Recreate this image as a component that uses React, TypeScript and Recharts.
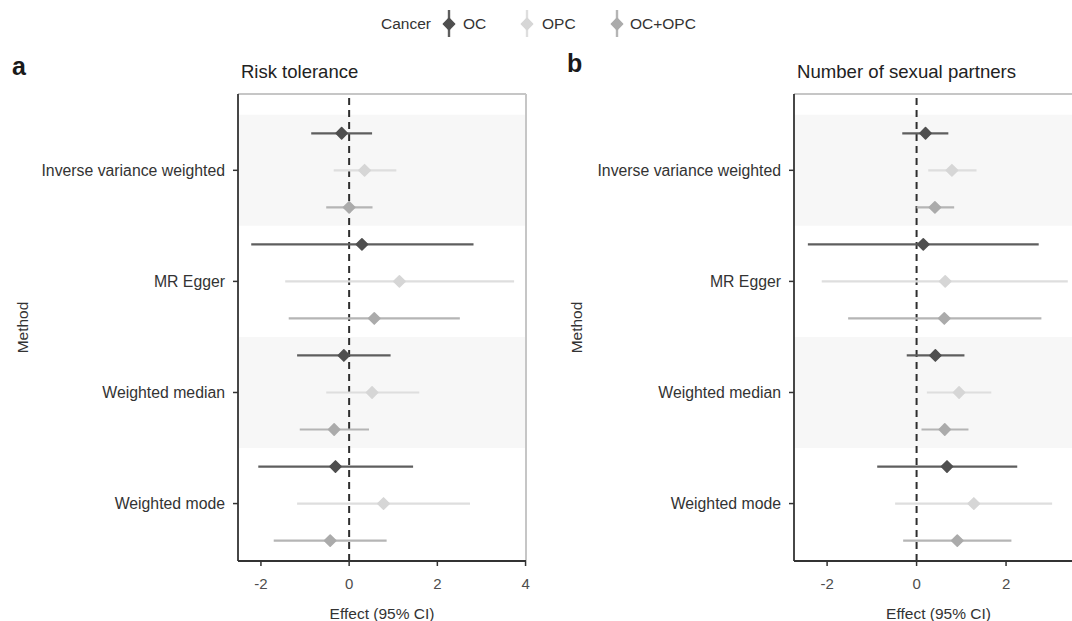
import React from 'react'
import {
  ScatterChart,
  Scatter,
  XAxis,
  YAxis,
  ErrorBar,
  ReferenceArea,
  ReferenceLine,
} from 'recharts'

const methods = ['Inverse variance weighted', 'MR Egger', 'Weighted median', 'Weighted mode']
const cancers = ['OC', 'OPC', 'OC+OPC']

// a: risk tolerance
const riskOC = [-0.17, 0.29, -0.12, -0.31]
const riskOCLow = [-0.86, -2.22, -1.18, -2.06]
const riskOCHigh = [0.52, 2.82, 0.94, 1.45]
const riskOPC = [0.35, 1.14, 0.52, 0.78]
const riskOPCLow = [-0.35, -1.45, -0.52, -1.18]
const riskOPCHigh = [1.07, 3.74, 1.59, 2.74]
const riskBoth = [0.0, 0.57, -0.34, -0.43]
const riskBothLow = [-0.52, -1.37, -1.12, -1.71]
const riskBothHigh = [0.53, 2.51, 0.45, 0.85]

// b: number of sexual partners
const partnersOC = [0.2, 0.15, 0.42, 0.68]
const partnersOCLow = [-0.32, -2.43, -0.22, -0.88]
const partnersOCHigh = [0.71, 2.73, 1.07, 2.25]
const partnersOPC = [0.79, 0.64, 0.95, 1.28]
const partnersOPCLow = [0.26, -2.12, 0.23, -0.48]
const partnersOPCHigh = [1.34, 3.38, 1.67, 3.03]
const partnersBoth = [0.41, 0.62, 0.63, 0.91]
const partnersBothLow = [0.0, -1.53, 0.11, -0.3]
const partnersBothHigh = [0.84, 2.79, 1.16, 2.12]

const riskTicks = [-2, 0, 2, 4]
const partnersTicks = [-2, 0, 2]

const pointColors = ['#4f4f4f', '#d6d6d6', '#ababab']
const lineColors = ['#5e5e5e', '#dedede', '#b5b5b5']
const dodge = [1 / 3, 0, -1 / 3]
const yDomain = [0.483, 4.687]
const font = '"Liberation Sans", Arial, Helvetica, sans-serif'

const toRows = (est: number[], low: number[], high: number[], k: number) =>
  est.map((v, i) => ({
    x: v,
    y: methods.length - i + dodge[k],
    err: [v - low[i], high[i] - v],
  }))

// ggplot-ish filled diamond, slightly rounded
const Diamond = ({ cx, cy, fill }: any) => {
  const r = 5.6
  return (
    <polygon
      points={`${cx},${cy - r} ${cx + r},${cy} ${cx},${cy + r} ${cx - r},${cy}`}
      fill={fill}
      stroke={fill}
      strokeWidth={1.6}
      strokeLinejoin="round"
    />
  )
}

interface PanelProps {
  series: number[][][]
  xDomain: number[]
  xTicks: number[]
  left: number
  width: number
  yAxisWidth: number
  marginRight: number
  methodOffset: number
}

function Panel({ series, xDomain, xTicks, left, width, yAxisWidth, marginRight, methodOffset }: PanelProps) {
  return (
    <div style={{ position: 'absolute', left, top: 0 }}>
      <ScatterChart
        width={width}
        height={621}
        margin={{ top: 94, right: marginRight, bottom: 0, left: 0 }}
      >
        <ReferenceArea y1={3.5} y2={4.5} fill="#f7f7f7" fillOpacity={1} stroke="none" />
        <ReferenceArea y1={1.5} y2={2.5} fill="#f7f7f7" fillOpacity={1} stroke="none" />
        <ReferenceLine y={yDomain[1]} stroke="#c6c6c6" strokeWidth={2} />
        <ReferenceLine x={xDomain[1]} stroke="#c6c6c6" strokeWidth={2} />
        <XAxis
          type="number"
          dataKey="x"
          domain={xDomain}
          ticks={xTicks}
          interval={0}
          allowDataOverflow
          height={60}
          tickSize={5}
          tickMargin={12}
          axisLine={{ stroke: '#333', strokeWidth: 1.8 }}
          tickLine={{ stroke: '#333', strokeWidth: 1.5 }}
          tick={{ fill: '#4d4d4d', fontSize: 15, fontFamily: font }}
          label={{
            value: 'Effect (95% CI)',
            position: 'insideBottom',
            offset: 2,
            fill: '#333',
            fontSize: 15.5,
            fontFamily: font,
          }}
        />
        <YAxis
          type="number"
          dataKey="y"
          domain={yDomain}
          ticks={[1, 2, 3, 4]}
          interval={0}
          allowDataOverflow
          width={yAxisWidth}
          tickSize={5}
          tickMargin={8}
          tickFormatter={(v: number) => methods[methods.length - v]}
          axisLine={{ stroke: '#333', strokeWidth: 1.8 }}
          tickLine={{ stroke: '#333', strokeWidth: 1.5 }}
          tick={{ fill: '#333', fontSize: 15.8, fontFamily: font }}
          label={{
            value: 'Method',
            angle: -90,
            position: 'insideLeft',
            offset: methodOffset,
            fill: '#333',
            fontSize: 15.5,
            fontFamily: font,
            style: { textAnchor: 'middle' },
          }}
        />
        <ReferenceLine x={0} stroke="#2e2e2e" strokeWidth={2} strokeDasharray="7 5" />
        {series.map(([est, low, high], k) => (
          <Scatter
            key={cancers[k]}
            name={cancers[k]}
            data={toRows(est, low, high, k)}
            fill={pointColors[k]}
            shape={(p: any) => <Diamond {...p} fill={pointColors[k]} />}
            isAnimationActive={false}
          >
            <ErrorBar
              dataKey="err"
              direction="x"
              width={0}
              stroke={lineColors[k]}
              strokeWidth={2.2}
              isAnimationActive={false}
            />
          </Scatter>
        ))}
      </ScatterChart>
    </div>
  )
}

function CancerLegend() {
  const glyphX = [449, 527, 617]
  const textX = [463, 542, 630]
  return (
    <svg width={1072} height={45} style={{ position: 'absolute', left: 0, top: 0 }}>
      <text x={381} y={29} fontSize={15.5} fill="#333" fontFamily={font}>
        Cancer
      </text>
      {cancers.map((c, k) => (
        <g key={c}>
          <line x1={glyphX[k]} x2={glyphX[k]} y1={10} y2={37} stroke={lineColors[k]} strokeWidth={2.4} />
          <Diamond cx={glyphX[k]} cy={24} fill={pointColors[k]} />
          <text x={textX[k]} y={29} fontSize={15.5} fill="#333" fontFamily={font}>
            {c}
          </text>
        </g>
      ))}
    </svg>
  )
}

export default function App() {
  return (
    <div
      style={{
        position: 'absolute',
        left: 0,
        top: 0,
        width: 1072,
        height: 621,
        overflow: 'hidden',
        background: '#fff',
        fontFamily: font,
      }}
    >
      <CancerLegend />
      <div style={{ position: 'absolute', left: 12, top: 52, fontSize: 25, fontWeight: 700, color: '#1a1a1a' }}>a</div>
      <div style={{ position: 'absolute', left: 567, top: 49, fontSize: 25, fontWeight: 700, color: '#1a1a1a' }}>b</div>
      <div style={{ position: 'absolute', left: 241, top: 61, fontSize: 18.5, color: '#222' }}>Risk tolerance</div>
      <div style={{ position: 'absolute', left: 797, top: 61, fontSize: 18.6, color: '#222' }}>
        Number of sexual partners
      </div>
      <Panel
        series={[
          [riskOC, riskOCLow, riskOCHigh],
          [riskOPC, riskOPCLow, riskOPCHigh],
          [riskBoth, riskBothLow, riskBothHigh],
        ]}
        xDomain={[-2.52, 4.01]}
        xTicks={riskTicks}
        left={0}
        width={540}
        yAxisWidth={238}
        marginRight={14}
        methodOffset={22}
      />
      <Panel
        series={[
          [partnersOC, partnersOCLow, partnersOCHigh],
          [partnersOPC, partnersOPCLow, partnersOPCHigh],
          [partnersBoth, partnersBothLow, partnersBothHigh],
        ]}
        xDomain={[-2.74, 3.72]}
        xTicks={partnersTicks}
        left={540}
        width={543}
        yAxisWidth={254}
        marginRight={0}
        methodOffset={36}
      />
    </div>
  )
}
